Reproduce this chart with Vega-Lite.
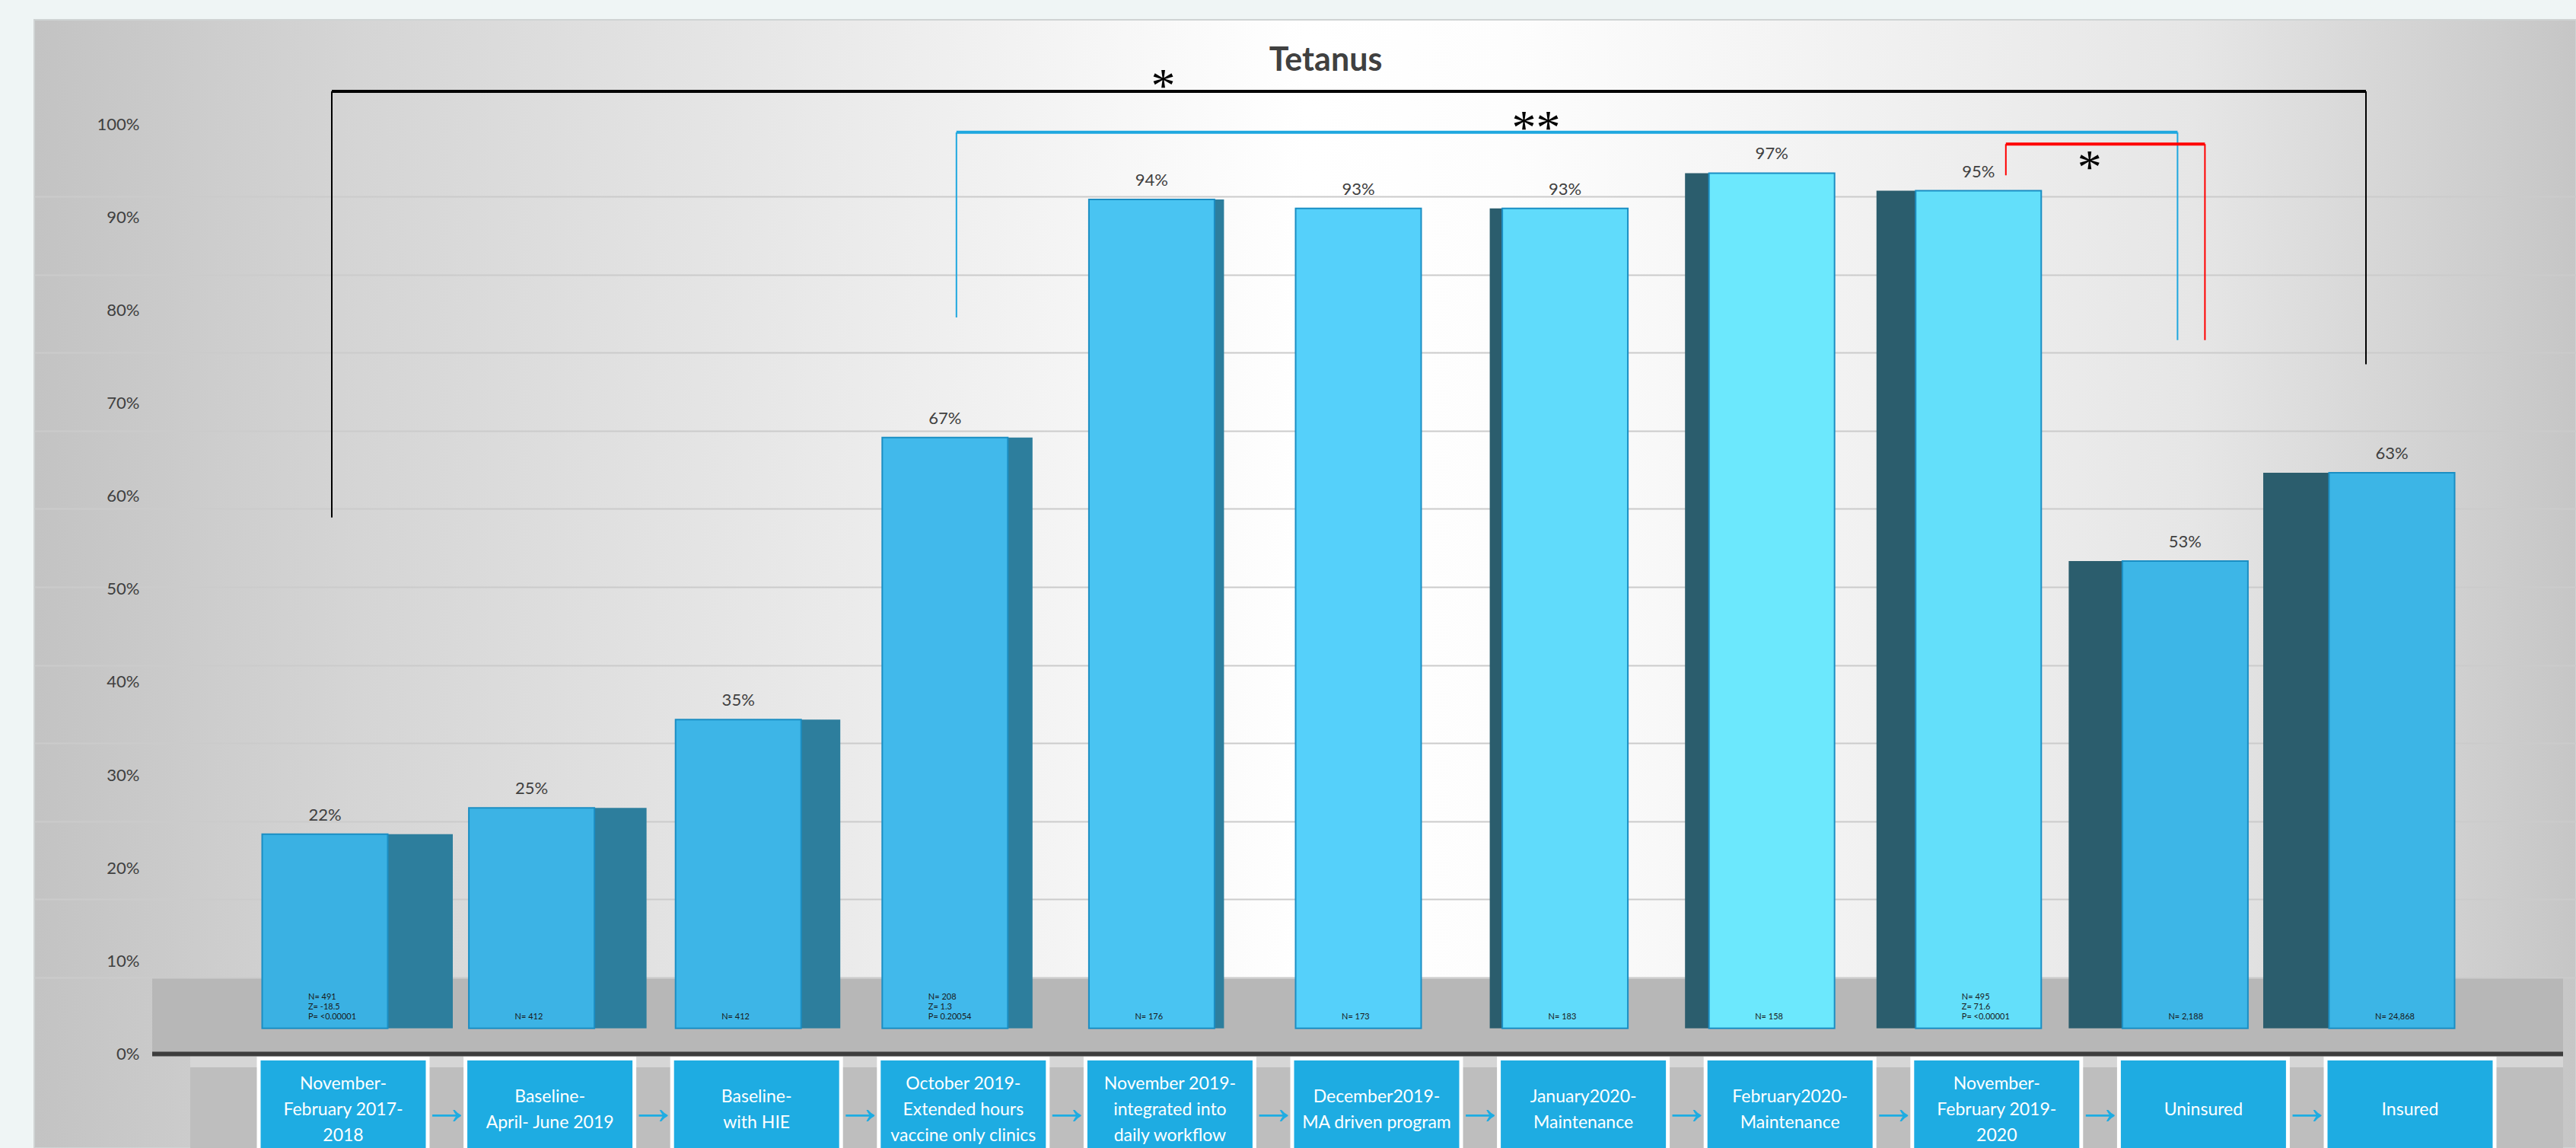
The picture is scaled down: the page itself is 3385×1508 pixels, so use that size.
{
  "$schema": "https://vega.github.io/schema/vega-lite/v6.json",
  "width": 3340,
  "height": 1482,
  "autosize": "none",
  "padding": {"left": 45, "top": 26, "right": 0, "bottom": 0},
  "background": "#eff5f5",
  "view": {
    "fill": {"gradient": "linear", "x1": 0, "y1": 0, "x2": 1, "y2": 0, "stops": [
      {"offset": 0, "color": "#c3c3c3"},
      {"offset": 0.12, "color": "#d4d4d4"},
      {"offset": 0.5, "color": "#ffffff"},
      {"offset": 0.58, "color": "#fdfdfd"},
      {"offset": 0.85, "color": "#e6e6e6"},
      {"offset": 1, "color": "#c6c6c6"}
    ]},
    "stroke": "#cfd3d3",
    "strokeWidth": 2
  },
  "title": {"text": "Tetanus", "font": "Lato", "fontSize": 43, "fontWeight": "bold", "color": "#404040", "anchor": "middle", "dx": 27, "offset": 0, "baseline": "alphabetic", "dy": 110},
  "data": {"values": [
    {"period": "November-February 2017-2018", "lines": ["November-", "February 2017-", "2018"], "rate": 0.22, "stats": ["N= 491", "Z= -18.5", "P= <0.00001"]},
    {"period": "Baseline-April- June 2019", "lines": ["Baseline-", "April- June 2019"], "rate": 0.25, "stats": ["N= 412"]},
    {"period": "Baseline-with HIE", "lines": ["Baseline-", "with HIE"], "rate": 0.35, "stats": ["N= 412"]},
    {"period": "October 2019-Extended hours vaccine only clinics", "lines": ["October 2019-", "Extended hours", "vaccine only clinics"], "rate": 0.67, "stats": ["N= 208", "Z= 1.3", "P= 0.20054"]},
    {"period": "November 2019-integrated into daily workflow", "lines": ["November 2019-", "integrated into", "daily workflow"], "rate": 0.94, "stats": ["N= 176"]},
    {"period": "December2019-MA driven program", "lines": ["December2019-", "MA driven program"], "rate": 0.93, "stats": ["N= 173"]},
    {"period": "January2020-Maintenance", "lines": ["January2020-", "Maintenance"], "rate": 0.93, "stats": ["N= 183"]},
    {"period": "February2020-Maintenance", "lines": ["February2020-", "Maintenance"], "rate": 0.97, "stats": ["N= 158"]},
    {"period": "November-February 2019-2020", "lines": ["November-", "February 2019-", "2020"], "rate": 0.95, "stats": ["N= 495", "Z= 71.6", "P= <0.00001"]},
    {"period": "Uninsured", "lines": ["Uninsured"], "rate": 0.53, "stats": ["N= 2,188"]},
    {"period": "Insured", "lines": ["Insured"], "rate": 0.63, "stats": ["N= 24,868"]}
  ]},
  "resolve": {"scale": {"y": "independent"}, "axis": {"y": "independent"}},
  "layer": [
    {
      "data": {"values": [{}]},
      "mark": {"type": "rect", "color": "#b7b7b7", "xOffset": -227, "x2Offset": 225},
      "encoding": {
        "x": {"datum": "November-February 2017-2018", "type": "nominal", "bandPosition": 0.5, "axis": null,
          "scale": {"domain": ["November-February 2017-2018", "Baseline-April- June 2019", "Baseline-with HIE", "October 2019-Extended hours vaccine only clinics", "November 2019-integrated into daily workflow", "December2019-MA driven program", "January2020-Maintenance", "February2020-Maintenance", "November-February 2019-2020", "Uninsured", "Insured"],
            "paddingInner": 0.3925, "paddingOuter": 0.845, "align": 0.6525}},
        "x2": {"datum": "Insured", "bandPosition": 0.5},
        "y": {"datum": 0, "type": "quantitative", "scale": {"domain": [-0.1011, 1.1122], "nice": false, "zero": false},
          "axis": {"values": [0, 0.1, 0.2, 0.3, 0.4, 0.5, 0.6, 0.7, 0.8, 0.9, 1], "format": ".0%", "orient": "left", "offset": -140, "ticks": false, "domain": false, "grid": false, "labelPadding": 2, "labelFont": "Lato", "labelFontSize": 22, "labelColor": "#404040", "title": null}},
        "y2": {"datum": 0.081}
      }
    },
    {
      "data": {"values": [{}]},
      "mark": {"type": "rect", "color": "#d6d6d6", "xOffset": -177, "x2Offset": 225},
      "encoding": {
        "x": {"datum": "November-February 2017-2018", "type": "nominal", "bandPosition": 0.5, "axis": null},
        "x2": {"datum": "Insured", "bandPosition": 0.5},
        "y": {"datum": -0.0314, "type": "quantitative", "scale": {"domain": [-0.1359, 1.1439], "nice": false, "zero": false}, "axis": null},
        "y2": {"datum": -0.0444}
      }
    },
    {
      "data": {"values": [{}]},
      "mark": {"type": "rect", "color": "#bebebe", "xOffset": -177, "x2Offset": 225},
      "encoding": {
        "x": {"datum": "November-February 2017-2018", "type": "nominal", "bandPosition": 0.5, "axis": null},
        "x2": {"datum": "Insured", "bandPosition": 0.5},
        "y": {"datum": -0.0444, "type": "quantitative", "scale": {"domain": [-0.1359, 1.1439], "nice": false, "zero": false}, "axis": null},
        "y2": {"datum": -0.1359}
      }
    },
    {
      "data": {"values": [{}]},
      "mark": {"type": "rule", "color": "#3d3d3d", "strokeWidth": 6, "xOffset": -227, "x2Offset": 225},
      "encoding": {
        "x": {"datum": "November-February 2017-2018", "type": "nominal", "bandPosition": 0.5, "axis": null},
        "x2": {"datum": "Insured", "bandPosition": 0.5},
        "y": {"datum": 0, "type": "quantitative", "scale": {"domain": [-0.1011, 1.1122], "nice": false, "zero": false}, "axis": null}
      }
    },
    {
      "transform": [{"filter": {"field": "period", "oneOf": ["November-February 2017-2018", "Baseline-April- June 2019", "Baseline-with HIE", "October 2019-Extended hours vaccine only clinics", "November 2019-integrated into daily workflow"]}}],
      "mark": {"type": "bar", "color": "#2d7e9d", "xOffset": 82},
      "encoding": {
        "x": {"field": "period", "type": "nominal", "axis": null},
        "y": {"field": "rate", "type": "quantitative", "scale": {"domain": [-0.1359, 1.1439], "nice": false, "zero": false}, "axis": null},
        "y2": {"datum": 0},
        "size": {"field": "period", "type": "nominal", "legend": null,
          "scale": {"type": "ordinal", "domain": ["November-February 2017-2018", "Baseline-April- June 2019", "Baseline-with HIE", "October 2019-Extended hours vaccine only clinics", "November 2019-integrated into daily workflow", "December2019-MA driven program", "January2020-Maintenance", "February2020-Maintenance", "November-February 2019-2020", "Uninsured", "Insured"], "range": [172, 138, 104, 66, 26, 0, 34, 64, 104, 142, 174]}}
      }
    },
    {
      "transform": [{"filter": {"field": "period", "oneOf": ["January2020-Maintenance", "February2020-Maintenance", "November-February 2019-2020", "Uninsured", "Insured"]}}],
      "mark": {"type": "bar", "color": "#2b5d6d", "xOffset": -82},
      "encoding": {
        "x": {"field": "period", "type": "nominal", "axis": null},
        "y": {"field": "rate", "type": "quantitative", "scale": {"domain": [-0.1359, 1.1439], "nice": false, "zero": false}, "axis": null},
        "y2": {"datum": 0},
        "size": {"field": "period", "type": "nominal", "legend": null,
          "scale": {"type": "ordinal", "domain": ["November-February 2017-2018", "Baseline-April- June 2019", "Baseline-with HIE", "October 2019-Extended hours vaccine only clinics", "November 2019-integrated into daily workflow", "December2019-MA driven program", "January2020-Maintenance", "February2020-Maintenance", "November-February 2019-2020", "Uninsured", "Insured"], "range": [172, 138, 104, 66, 26, 0, 34, 64, 104, 142, 174]}}
      }
    },
    {
      "mark": {"type": "bar", "stroke": "#1b8ec3", "strokeWidth": 2},
      "encoding": {
        "x": {"field": "period", "type": "nominal", "axis": null},
        "y": {"field": "rate", "type": "quantitative", "scale": {"domain": [-0.1359, 1.1439], "nice": false, "zero": false}, "axis": null},
        "y2": {"datum": 0},
        "color": {"field": "period", "type": "nominal", "legend": null,
          "scale": {"domain": ["November-February 2017-2018", "Baseline-April- June 2019", "Baseline-with HIE", "October 2019-Extended hours vaccine only clinics", "November 2019-integrated into daily workflow", "December2019-MA driven program", "January2020-Maintenance", "February2020-Maintenance", "November-February 2019-2020", "Uninsured", "Insured"],
            "range": ["#3ab1e3", "#3cb3e5", "#3db5e7", "#41b9eb", "#49c4f2", "#55d0fa", "#60dbfb", "#6ce8fd", "#63dffa", "#3db6e7", "#3cb5e6"]}}
      }
    },
    {
      "mark": {"type": "text", "font": "Lato", "fontSize": 22, "color": "#404040", "baseline": "middle", "dy": -25},
      "encoding": {
        "x": {"field": "period", "type": "nominal", "axis": null},
        "y": {"field": "rate", "type": "quantitative", "scale": {"domain": [-0.1359, 1.1439], "nice": false, "zero": false}, "axis": null},
        "text": {"field": "rate", "type": "quantitative", "format": ".0%"}
      }
    },
    {
      "mark": {"type": "text", "font": "Lato", "fontSize": 11, "color": "#1a1a1a", "baseline": "middle", "align": "left", "xOffset": -22, "lineHeight": 13, "dy": {"expr": "-13 * (length(datum.stats) - 1)"}},
      "encoding": {
        "x": {"field": "period", "type": "nominal", "axis": null},
        "y": {"datum": 0.0126, "type": "quantitative", "scale": {"domain": [-0.1359, 1.1439], "nice": false, "zero": false}, "axis": null},
        "text": {"field": "stats"}
      }
    },
    {
      "mark": {"type": "bar", "fill": "#1eace2", "stroke": "#ffffff", "strokeWidth": 5, "width": 222, "xOffset": 24},
      "encoding": {
        "x": {"field": "period", "type": "nominal", "axis": null},
        "y": {"datum": -0.0345, "type": "quantitative", "scale": {"domain": [-0.1359, 1.1439], "nice": false, "zero": false}, "axis": null},
        "y2": {"datum": -0.15}
      }
    },
    {
      "mark": {"type": "text", "font": "Lato", "fontSize": 23, "color": "#ffffff", "baseline": "middle", "align": "center", "xOffset": 24, "lineHeight": 34, "dy": {"expr": "-17 * (length(datum.lines) - 1)"}},
      "encoding": {
        "x": {"field": "period", "type": "nominal", "axis": null},
        "y": {"datum": -0.0927, "type": "quantitative", "scale": {"domain": [-0.1359, 1.1439], "nice": false, "zero": false}, "axis": null},
        "text": {"field": "lines"}
      }
    },
    {
      "transform": [{"filter": "datum.period !== 'Insured'"}],
      "mark": {"type": "text", "font": "Liberation Sans", "fontSize": 64, "color": "#1eace2", "baseline": "middle", "align": "center", "xOffset": 160},
      "encoding": {
        "x": {"field": "period", "type": "nominal", "axis": null},
        "y": {"datum": -0.0919, "type": "quantitative", "scale": {"domain": [-0.1359, 1.1439], "nice": false, "zero": false}, "axis": null},
        "text": {"value": "→"}
      }
    },
    {
      "data": {"values": [{}]},
      "mark": {"type": "rule", "color": "#000000", "strokeWidth": 4, "xOffset": 9, "x2Offset": -34},
      "encoding": {
        "x": {"datum": "November-February 2017-2018", "type": "nominal", "bandPosition": 0.5, "axis": null},
        "x2": {"datum": "Insured", "bandPosition": 0.5},
        "y": {"datum": 1.1345, "type": "quantitative", "scale": {"domain": [-0.2183, 1.2261], "nice": false, "zero": false},
          "axis": {"values": [0, 0.1, 0.2, 0.3, 0.4, 0.5, 0.6, 0.7, 0.8, 0.9, 1], "orient": "left", "labels": false, "ticks": false, "domain": false, "grid": true, "gridColor": "#cbcbcb", "gridWidth": 2, "title": null}}
      }
    },
    {
      "data": {"values": [{}]},
      "mark": {"type": "rule", "color": "#000000", "strokeWidth": 2, "xOffset": 9},
      "encoding": {
        "x": {"datum": "November-February 2017-2018", "type": "nominal", "bandPosition": 0.5, "axis": null},
        "y": {"datum": 1.1345, "type": "quantitative", "scale": {"domain": [-0.2183, 1.2261], "nice": false, "zero": false}, "axis": null},
        "y2": {"datum": 0.589}
      }
    },
    {
      "data": {"values": [{}]},
      "mark": {"type": "rule", "color": "#000000", "strokeWidth": 2, "xOffset": -34},
      "encoding": {
        "x": {"datum": "Insured", "type": "nominal", "bandPosition": 0.5, "axis": null},
        "y": {"datum": 1.1345, "type": "quantitative", "scale": {"domain": [-0.2183, 1.2261], "nice": false, "zero": false}, "axis": null},
        "y2": {"datum": 0.785}
      }
    },
    {
      "data": {"values": [{}]},
      "mark": {"type": "rule", "color": "#1ea7df", "strokeWidth": 4, "xOffset": 15, "x2Offset": -10},
      "encoding": {
        "x": {"datum": "October 2019-Extended hours vaccine only clinics", "type": "nominal", "bandPosition": 0.5, "axis": null},
        "x2": {"datum": "Uninsured", "bandPosition": 0.5},
        "y": {"datum": 1.082, "type": "quantitative", "scale": {"domain": [-0.2183, 1.2261], "nice": false, "zero": false}, "axis": null}
      }
    },
    {
      "data": {"values": [{}]},
      "mark": {"type": "rule", "color": "#1ea7df", "strokeWidth": 2, "xOffset": 15},
      "encoding": {
        "x": {"datum": "October 2019-Extended hours vaccine only clinics", "type": "nominal", "bandPosition": 0.5, "axis": null},
        "y": {"datum": 1.082, "type": "quantitative", "scale": {"domain": [-0.2183, 1.2261], "nice": false, "zero": false}, "axis": null},
        "y2": {"datum": 0.845}
      }
    },
    {
      "data": {"values": [{}]},
      "mark": {"type": "rule", "color": "#1ea7df", "strokeWidth": 2, "xOffset": -10},
      "encoding": {
        "x": {"datum": "Uninsured", "type": "nominal", "bandPosition": 0.5, "axis": null},
        "y": {"datum": 1.082, "type": "quantitative", "scale": {"domain": [-0.2183, 1.2261], "nice": false, "zero": false}, "axis": null},
        "y2": {"datum": 0.816}
      }
    },
    {
      "data": {"values": [{}]},
      "mark": {"type": "rule", "color": "#ff0000", "strokeWidth": 4, "xOffset": 36, "x2Offset": 26},
      "encoding": {
        "x": {"datum": "November-February 2019-2020", "type": "nominal", "bandPosition": 0.5, "axis": null},
        "x2": {"datum": "Uninsured", "bandPosition": 0.5},
        "y": {"datum": 1.067, "type": "quantitative", "scale": {"domain": [-0.2183, 1.2261], "nice": false, "zero": false}, "axis": null}
      }
    },
    {
      "data": {"values": [{}]},
      "mark": {"type": "rule", "color": "#ff0000", "strokeWidth": 2, "xOffset": 36},
      "encoding": {
        "x": {"datum": "November-February 2019-2020", "type": "nominal", "bandPosition": 0.5, "axis": null},
        "y": {"datum": 1.067, "type": "quantitative", "scale": {"domain": [-0.2183, 1.2261], "nice": false, "zero": false}, "axis": null},
        "y2": {"datum": 1.027}
      }
    },
    {
      "data": {"values": [{}]},
      "mark": {"type": "rule", "color": "#ff0000", "strokeWidth": 2, "xOffset": 26},
      "encoding": {
        "x": {"datum": "Uninsured", "type": "nominal", "bandPosition": 0.5, "axis": null},
        "y": {"datum": 1.067, "type": "quantitative", "scale": {"domain": [-0.2183, 1.2261], "nice": false, "zero": false}, "axis": null},
        "y2": {"datum": 0.816}
      }
    },
    {
      "data": {"values": [{}]},
      "mark": {"type": "text", "font": "Liberation Serif", "fontSize": 64, "color": "#000000", "baseline": "middle", "align": "center", "xOffset": 15, "dy": 12},
      "encoding": {
        "x": {"datum": "November 2019-integrated into daily workflow", "type": "nominal", "bandPosition": 0.5, "axis": null},
        "y": {"datum": 1.151, "type": "quantitative", "scale": {"domain": [-0.2183, 1.2261], "nice": false, "zero": false}, "axis": null},
        "text": {"value": "*"}
      }
    },
    {
      "data": {"values": [{}]},
      "mark": {"type": "text", "font": "Liberation Serif", "fontSize": 64, "color": "#000000", "baseline": "middle", "align": "center", "xOffset": -38, "dy": 12},
      "encoding": {
        "x": {"datum": "January2020-Maintenance", "type": "nominal", "bandPosition": 0.5, "axis": null},
        "y": {"datum": 1.097, "type": "quantitative", "scale": {"domain": [-0.2183, 1.2261], "nice": false, "zero": false}, "axis": null},
        "text": {"value": "**"}
      }
    },
    {
      "data": {"values": [{}]},
      "mark": {"type": "text", "font": "Liberation Serif", "fontSize": 64, "color": "#000000", "baseline": "middle", "align": "center", "xOffset": 146, "dy": 12},
      "encoding": {
        "x": {"datum": "November-February 2019-2020", "type": "nominal", "bandPosition": 0.5, "axis": null},
        "y": {"datum": 1.047, "type": "quantitative", "scale": {"domain": [-0.2183, 1.2261], "nice": false, "zero": false}, "axis": null},
        "text": {"value": "*"}
      }
    }
  ]
}
